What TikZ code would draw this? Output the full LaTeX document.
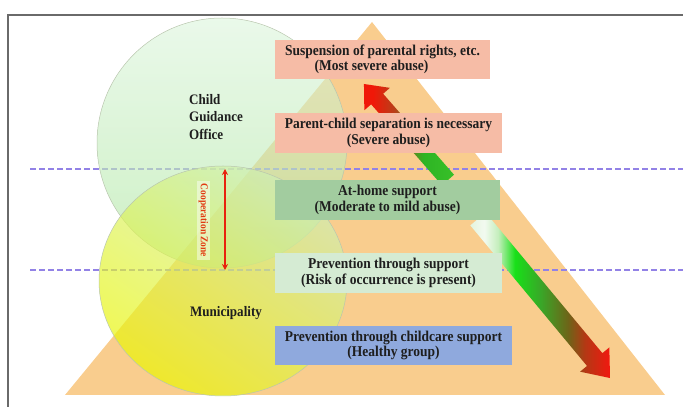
\documentclass[tikz,border=0pt]{standalone}
\usepackage{fontspec}
\setmainfont{Liberation Serif}[FakeStretch=0.9]
\usetikzlibrary{arrows.meta}
\definecolor{framegray}{HTML}{6A6A6A}
\definecolor{tri}{HTML}{F9CD8E}
\definecolor{dashc}{HTML}{9282E6}
\definecolor{cAtop}{HTML}{DDF5DD}
\definecolor{cAbot}{HTML}{AEE6A0}
\definecolor{cBtop}{HTML}{CDEFB8}
\definecolor{cBbot}{HTML}{EAF500}
\definecolor{ringc}{HTML}{B9C6AE}
\definecolor{salmon}{HTML}{F6BCA6}
\definecolor{midgreen}{HTML}{A2CC9F}
\definecolor{palegreen}{HTML}{D5EBD3}
\definecolor{bluebox}{HTML}{8FA9DD}
\definecolor{txt}{HTML}{1E1E1E}
\definecolor{czred}{HTML}{E23A12}
\definecolor{arrred}{HTML}{E8220E}
% lower arrow colours
\definecolor{la0}{HTML}{E4F4DE}
\definecolor{la1}{HTML}{F2FAF0}
\definecolor{la2}{HTML}{C4EEBC}
\definecolor{la3}{HTML}{18E018}
\definecolor{la4}{HTML}{38A828}
\definecolor{la5}{HTML}{6E6418}
\definecolor{la6}{HTML}{B43814}
\definecolor{la7}{HTML}{F21810}
% upper arrow colours
\definecolor{ua0}{HTML}{38C028}
\definecolor{ua1}{HTML}{2EB424}
\definecolor{ua2}{HTML}{B8401A}
\definecolor{ua3}{HTML}{F01808}
\pgfdeclarehorizontalshading{lowshade}{100bp}{color(0bp)=(la0); color(25bp)=(la0); color(30bp)=(la1); color(35bp)=(la2); color(41bp)=(la3); color(50bp)=(la4); color(60bp)=(la5); color(66bp)=(la6); color(75bp)=(la7); color(100bp)=(la7)}
\pgfdeclarehorizontalshading{upshade}{100bp}{color(0bp)=(ua0); color(25bp)=(ua0); color(42bp)=(ua1); color(58bp)=(ua2); color(70bp)=(ua3); color(100bp)=(ua3)}
\tikzset{
  lvl/.style={fill=#1, inner sep=0pt, minimum height=39.5pt, align=center,
    font=\fontsize{15}{15.5}\selectfont\bfseries, text=txt},
  lab/.style={inner sep=0pt, text=txt, font=\fontsize{14.5}{17.5}\selectfont\bfseries},
  zonelab/.style={fill=white, fill opacity=0.45, text opacity=1, inner xsep=3pt, inner ysep=2pt,
    text=czred, font=\fontsize{10.5}{11}\selectfont\bfseries, rotate=-90},
  sepline/.style={dashc, line width=2pt, dash pattern=on 6pt off 3pt},
  ring/.style={draw=ringc, line width=0.5pt},
}
\begin{document}
\begin{tikzpicture}[x=1pt,y=1pt]
\useasboundingbox (0,0) rectangle (683,407);
% frame
\draw[framegray, line width=2pt] (8,0) -- (8,392) -- (683,392);
% pyramid
\fill[tri] (372,385) -- (65,12) -- (665,12) -- cycle;
% dashed separators
\coordinate (s1a) at (30,238); \coordinate (s1b) at (683,238);
\coordinate (s2a) at (30,137); \coordinate (s2b) at (683,137);
\draw[sepline] (s1a) -- (s1b);
\draw[sepline] (s2a) -- (s2b);
% circles
\shade[top color=cAtop, bottom color=cAbot, fill opacity=0.62] (222,264) circle[radius=125];
\draw[ring] (222,264) circle[radius=125];
\shade[top color=cBtop, bottom color=cBbot, shading angle=-35, fill opacity=0.68] (223,126) ellipse[x radius=124, y radius=115];
\draw[ring] (223,126) ellipse[x radius=124, y radius=115];
% cooperation zone
\node[zonelab] (cz) at (203.5,186.5) {Cooperation Zone};
\coordinate (cztop) at (225,238);
\coordinate (czbot) at (225,137);
\draw[arrred, line width=1.6pt, {Stealth[length=6pt,width=6pt]}-{Stealth[length=6pt,width=6pt]}] (cztop) -- (czbot);
% upper arrow (towards most severe)
\begin{scope}[shift={(448,227)}, rotate=131.2]
\shade[shading=upshade, shading angle=180] (0,-8) -- (107.6,-8) -- (107.6,-17) -- (127.6,0) -- (107.6,17) -- (107.6,8) -- (0,8) -- cycle;
\end{scope}
% lower arrow (towards healthy)
\begin{scope}[shift={(478,188)}, rotate=-50.3]
\shade[shading=lowshade] (0,-10) -- (182.7,-10) -- (182.7,-19) -- (206.7,0) -- (182.7,19) -- (182.7,10) -- (0,10) -- cycle;
\end{scope}
% level boxes
\node[lvl=salmon, minimum width=215pt] (b1) at (382.5,347.5) {Suspension of parental rights, etc.\\(Most severe abuse)\hspace*{22pt}};
\node[lvl=salmon, minimum width=227pt] (b2) at (388.5,274) {Parent-child separation is necessary\\(Severe abuse)};
\node[lvl=midgreen, minimum width=225pt] (b3) at (387.5,207) {At-home support\\(Moderate to mild abuse)};
\node[lvl=palegreen, minimum width=227pt] (b4) at (388.5,134) {Prevention through support\\(Risk of occurrence is present)};
\node[lvl=bluebox, minimum width=237pt] (b5) at (393.5,61.5) {Prevention through childcare support\\(Healthy group)};
% labels
\node[lab, anchor=west, align=left] (cgo) at (189,290) {Child\\Guidance\\Office};
\node[lab] (mun) at (226,94) {Municipality};
\end{tikzpicture}
\end{document}
